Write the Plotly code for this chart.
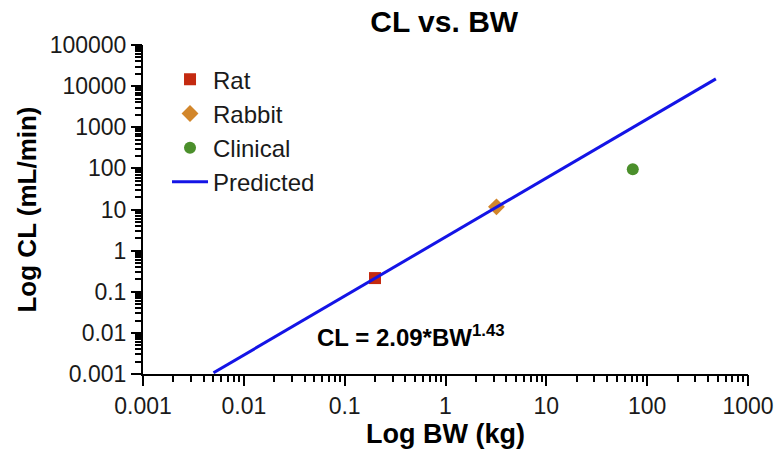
import plotly.graph_objects as go

# Data
rat_bw = [0.2]
rat_cl = [0.215]
rabbit_bw = [3.2]
rabbit_cl = [11.6]
clinical_bw = [72]
clinical_cl = [95]
pred_bw = [0.005, 480]
pred_cl = [0.00107, 15000]

x_tickvals = [0.001, 0.01, 0.1, 1, 10, 100, 1000]
x_ticktext = ["0.001", "0.01", "0.1", "1", "10", "100", "1000"]
y_tickvals = [0.001, 0.01, 0.1, 1, 10, 100, 1000, 10000, 100000]
y_ticktext = ["0.001", "0.01", "0.1", "1", "10", "100", "1000", "10000", "100000"]

# minor tick positions (2..9 within each decade)
x_minor = [d * k for d in x_tickvals[:-1] for k in range(2, 10)]
y_minor = [d * k for d in y_tickvals[:-1] for k in range(2, 10)]

FONT = "Liberation Sans, Arial, Helvetica, sans-serif"

fig = go.Figure()
fig.add_trace(go.Scatter(x=rat_bw, y=rat_cl, mode="markers", name="Rat",
                         marker=dict(symbol="square", size=12, color="#c42a10")))
fig.add_trace(go.Scatter(x=rabbit_bw, y=rabbit_cl, mode="markers", name="Rabbit",
                         marker=dict(symbol="diamond", size=13, color="#d2862b")))
fig.add_trace(go.Scatter(x=clinical_bw, y=clinical_cl, mode="markers", name="Clinical",
                         marker=dict(symbol="circle", size=12, color="#4b8f2b")))
fig.add_trace(go.Scatter(x=pred_bw, y=pred_cl, mode="lines", name="Predicted",
                         line=dict(color="#1414e6", width=3)))
# helper traces that activate the tick overlay axes
fig.add_trace(go.Scatter(x=rat_bw, y=rat_cl, xaxis="x2", yaxis="y2", mode="markers",
                         marker=dict(opacity=0), showlegend=False, hoverinfo="skip"))
fig.add_trace(go.Scatter(x=rat_bw, y=rat_cl, xaxis="x3", yaxis="y3", mode="markers",
                         marker=dict(opacity=0), showlegend=False, hoverinfo="skip"))

major = dict(type="log", showgrid=False, zeroline=False, showline=True, automargin=False,
             linecolor="black", linewidth=2, ticks="outside", ticklen=10, tickwidth=2,
             tickcolor="black", tickfont=dict(size=23, color="#1a1a1a", family=FONT),
             tickmode="array")
minor_ax = dict(type="log", showgrid=False, zeroline=False, showline=False, automargin=False,
                ticks="outside", ticklen=7, tickwidth=1.5, tickcolor="black",
                showticklabels=True, tickmode="array")
major_ax = dict(type="log", showgrid=False, zeroline=False, showline=False, automargin=False,
                ticks="outside", ticklen=10, tickwidth=2, tickcolor="black",
                showticklabels=True, tickmode="array")

fig.update_layout(
    xaxis=dict(range=[-3, 3], tickvals=x_tickvals, ticktext=x_ticktext,
               title=dict(text="<b>Log BW (kg)</b>", font=dict(size=27, color="black", family=FONT),
                          standoff=6),
               **major),
    yaxis=dict(range=[-3, 5], tickvals=y_tickvals, ticktext=y_ticktext,
               title=dict(text="<b>Log CL (mL/min)</b>", font=dict(size=26, color="black", family=FONT),
                          standoff=6),
               **major),
    xaxis2=dict(range=[-3, 3], tickvals=x_minor, ticktext=[""] * len(x_minor),
                overlaying="x", anchor="y", side="bottom", **minor_ax),
    yaxis2=dict(range=[-3, 5], tickvals=y_minor, ticktext=[""] * len(y_minor),
                overlaying="y", anchor="x", side="left", **minor_ax),
    xaxis3=dict(range=[-3, 3], tickvals=x_tickvals, ticktext=[""] * len(x_tickvals),
                overlaying="x", anchor="y", side="bottom", **major_ax),
    yaxis3=dict(range=[-3, 5], tickvals=y_tickvals, ticktext=[""] * len(y_tickvals),
                overlaying="y", anchor="x", side="left", **major_ax),
)

fig.add_annotation(x=0.284, y=0.115, xref="paper", yref="paper",
                   text="<b>CL = 2.09*BW<sup>1.43</sup></b>", showarrow=False,
                   xanchor="left", yanchor="middle",
                   font=dict(size=24, color="black", family=FONT))

fig.update_layout(
    width=778, height=456,
    margin=dict(l=143, r=30, t=45, b=82),
    paper_bgcolor="white", plot_bgcolor="white",
    title=dict(text="<b>CL vs. BW</b>", x=0.571, xanchor="center", y=0.952, yanchor="middle",
               font=dict(size=30, color="black", family=FONT)),
    legend=dict(x=0.0397, y=0.963, xanchor="left", yanchor="top",
                font=dict(size=24, color="#1a1a1a", family=FONT),
                bgcolor="rgba(0,0,0,0)", tracegroupgap=0, itemwidth=36),
    showlegend=True,
    font=dict(family=FONT),
)

fig.write_html("out.html")
